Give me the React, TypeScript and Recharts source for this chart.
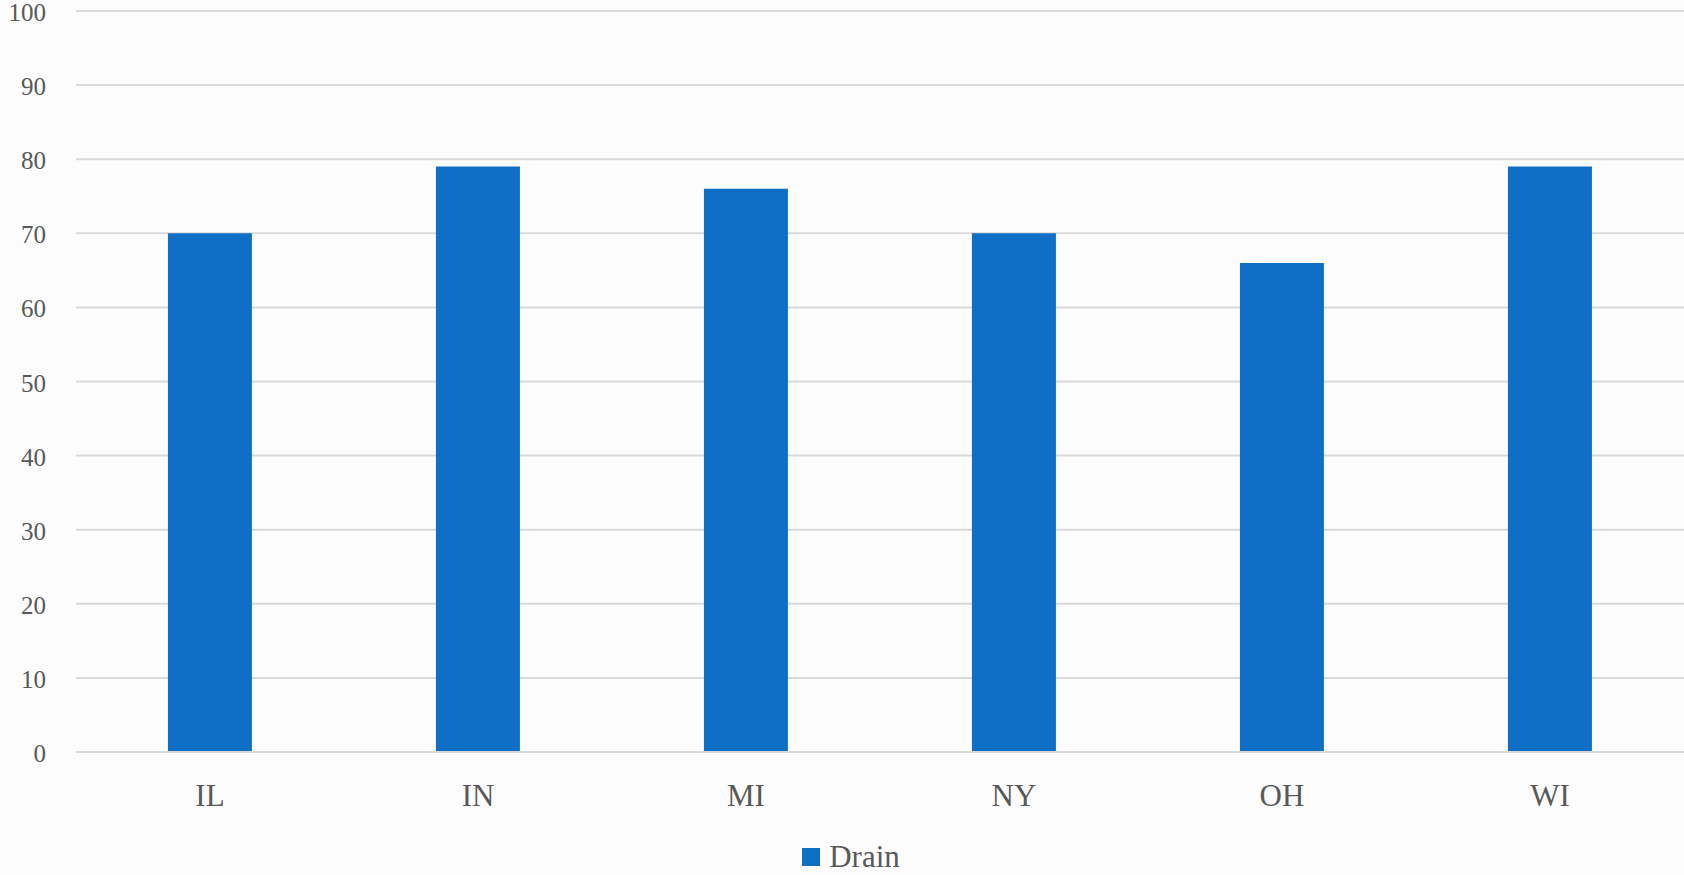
import React from 'react';
import { BarChart, Bar, XAxis, YAxis, CartesianGrid, Legend } from 'recharts';

const states = ['IL', 'IN', 'MI', 'NY', 'OH', 'WI'];
const drain = [70, 79, 76, 70, 66, 79];
const yTicks = [0, 10, 20, 30, 40, 50, 60, 70, 80, 90, 100];

const data = states.map((s, i) => ({ state: s, Drain: drain[i] }));

const FONT = "'Liberation Serif', 'DejaVu Serif', serif";
const TEXT = '#595959';

const YTick = ({ x, y, payload }: any) => (
  <text x={x} y={y} dy={10} textAnchor="end" fill={TEXT} fontSize={25} fontFamily={FONT}>
    {payload.value}
  </text>
);

const LegendContent = ({ payload }: any) => (
  <div style={{ display: 'flex', justifyContent: 'center', alignItems: 'center', paddingLeft: 18 }}>
    {(payload || []).map((p: any) => (
      <div key={p.value} style={{ display: 'flex', alignItems: 'center' }}>
        <span style={{ width: 18, height: 18, background: p.color, display: 'inline-block', marginRight: 9 }} />
        <span style={{ color: TEXT, fontFamily: FONT, fontSize: 31, lineHeight: '38px' }}>{p.value}</span>
      </div>
    ))}
  </div>
);

export default function App() {
  return (
    <div style={{ position: 'absolute', left: 0, top: 0, width: 1684, height: 875, background: '#fcfcfc' }}>
      <BarChart
        width={1684}
        height={875}
        data={data}
        margin={{ top: 11, right: 0, bottom: 0, left: 0 }}
        barCategoryGap="34.3%"
      >
        <CartesianGrid vertical={false} stroke="#d9d9d9" strokeWidth={2} />
        <XAxis
          dataKey="state"
          height={70}
          tickLine={false}
          tickSize={0}
          tickMargin={32}
          axisLine={{ stroke: '#d9d9d9', strokeWidth: 2 }}
          tick={{ fill: TEXT, fontSize: 31, fontFamily: FONT }}
        />
        <YAxis
          width={76}
          domain={[0, 100]}
          ticks={yTicks}
          tickLine={false}
          axisLine={false}
          tickSize={0}
          tickMargin={30}
          interval={0}
          tick={<YTick />}
        />
        <Legend
          verticalAlign="bottom"
          align="center"
          height={53}
          wrapperStyle={{ top: 838 }}
          content={<LegendContent />}
        />
        <Bar dataKey="Drain" fill="#0F6FC6" isAnimationActive={false} />
      </BarChart>
    </div>
  );
}
